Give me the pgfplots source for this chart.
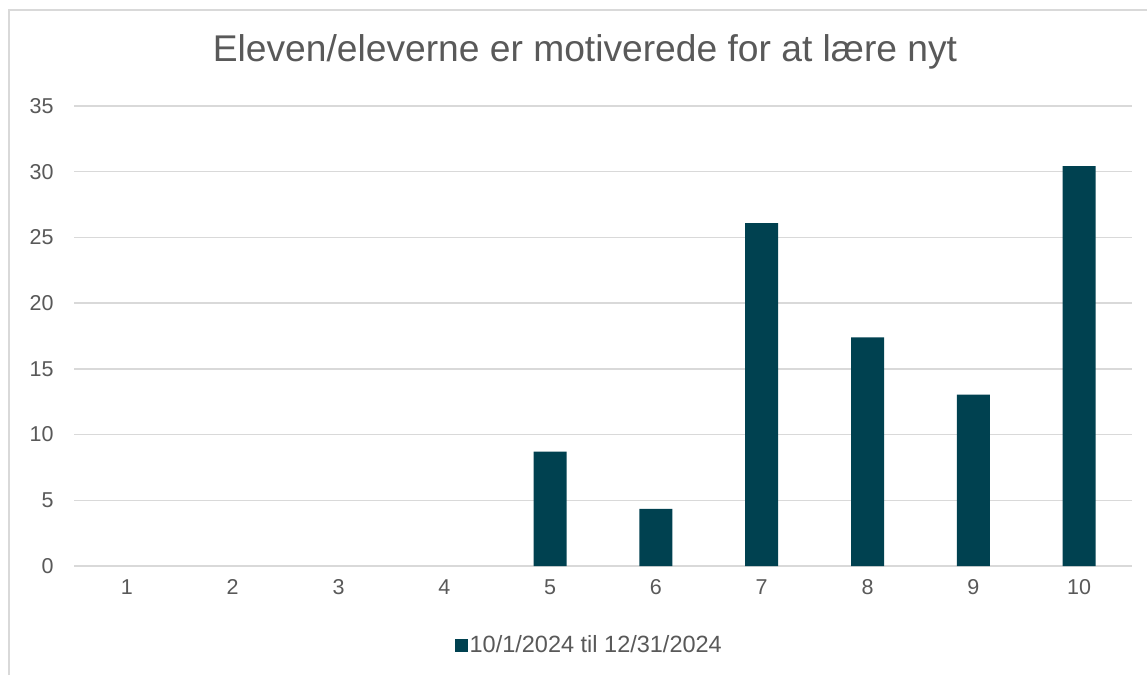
\documentclass[border=0pt]{standalone}
\usepackage{pgfplots}
\pgfplotsset{compat=1.18}
\usepackage{fontspec}
\setmainfont{Liberation Sans}
\definecolor{barc}{RGB}{0,65,80}
\definecolor{txt}{RGB}{89,89,89}
\definecolor{gridc}{RGB}{217,217,217}
\begin{document}
\begin{tikzpicture}[x=1pt,y=1pt]
\useasboundingbox (0,0) rectangle (1147,675);
\fill[white] (0,0) rectangle (1147,675);
\draw[gridc, line width=2pt] (9,0) -- (9,665) -- (1147,665);
\node[txt, font=\fontsize{37.2}{42}\selectfont] at (585,623) {Eleven/eleverne er motiverede for at lære nyt};
\begin{axis}[
  at={(74pt,109pt)}, anchor=origin,
  scale only axis, width=1058pt, height=460pt,
  xmin=0.5, xmax=10.5, ymin=0, ymax=35,
  xtick={1,...,10}, ytick={0,5,...,35},
  axis line style={draw=none},
  major tick length=0pt,
  ymajorgrids, grid style={gridc, line width=1.5pt},
  tick label style={txt, font=\fontsize{21.5}{24}\selectfont},
  yticklabel style={xshift=-17pt},
  xticklabel style={yshift=-10pt},
  /pgf/number format/assume math mode=true,
  ybar, bar width=33pt,
  legend style={at={(0.487,-0.172)}, anchor=center, draw=none, fill=none,
    font=\fontsize{23.5}{26}\selectfont, text=txt},
  legend image code/.code={\fill[barc] (0pt,-6.5pt) rectangle (13pt,6.5pt);},
]
\addplot[fill=barc, draw=none] coordinates {(5,8.70) (6,4.35) (7,26.09) (8,17.39) (9,13.04) (10,30.43)};
\addlegendentry{10/1/2024 til 12/31/2024}
\end{axis}
\end{tikzpicture}
\end{document}
